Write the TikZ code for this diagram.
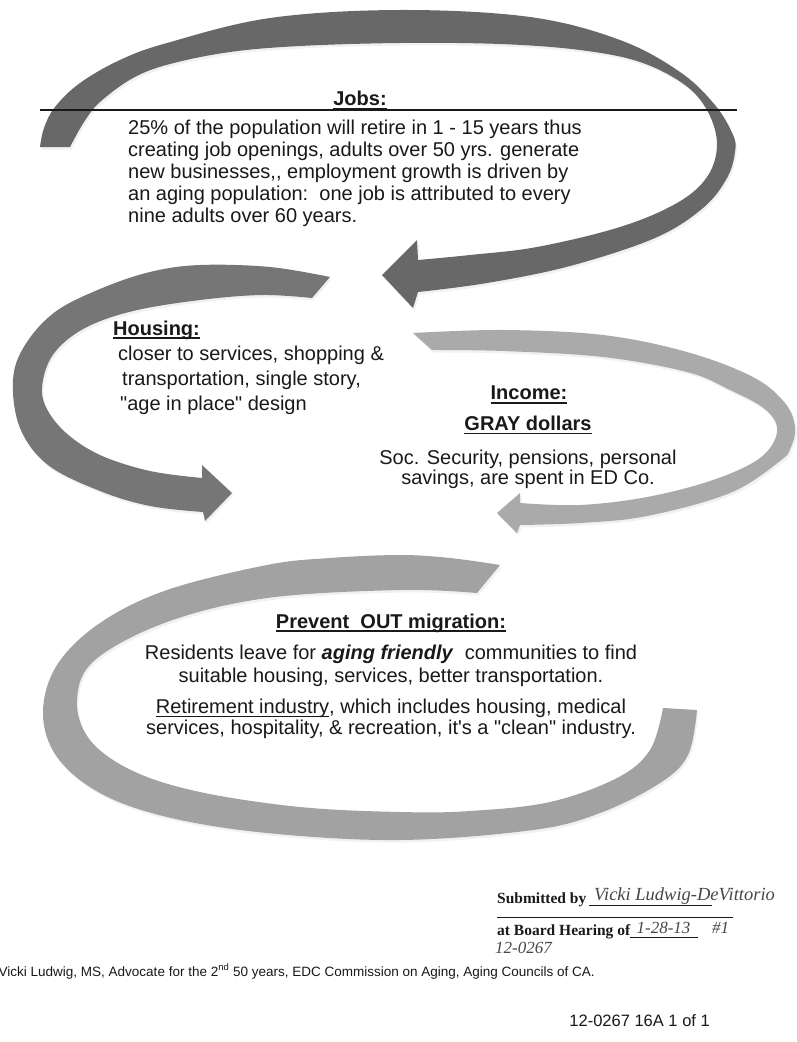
\documentclass[tikz,border=0pt]{standalone}
\usepackage{fontspec}
\setmainfont{Liberation Sans}
\newfontfamily\sansbody{Liberation Sans}
\newfontfamily\formfont{Liberation Serif}
\usepackage{tikz}
\usetikzlibrary{shadows}

\definecolor{jobsgray}{RGB}{104,104,104}
\definecolor{housegray}{RGB}{118,118,118}
\definecolor{incgray}{RGB}{170,170,170}
\definecolor{ringgray}{RGB}{162,162,162}
\definecolor{inkc}{RGB}{25,25,25}

% heavier underline for the headings
\newcommand{\hul}[2][1.6pt]{\setbox0=\hbox{#2}\rlap{\vrule width\wd0 height -2.2pt depth \dimexpr2.2pt+#1\relax}\box0}

\begin{document}
\begin{tikzpicture}[x=1pt,y=-1pt,
	band/.style={drop shadow={shadow xshift=1.5pt,shadow yshift=-2.5pt,fill=black!10}},
	body/.style={inner sep=0pt,text=inkc,font=\sansbody\fontsize{20}{22}\selectfont},
	head/.style={inner sep=0pt,text=inkc,font=\sansbody\bfseries\fontsize{20}{22}\selectfont},
	form/.style={inner sep=0pt,text=inkc,font=\formfont\bfseries\fontsize{15.5}{18}\selectfont},
	hand/.style={inner sep=0pt,text=inkc!80,font=\formfont\itshape\fontsize{17}{18}\selectfont},
	foot/.style={inner sep=0pt,text=inkc,font=\sansbody\fontsize{13.5}{15}\selectfont}]
		\useasboundingbox (0,0) rectangle (797,1042);
		\fill[white] (0,0) rectangle (797,1042);

		% jobs arrow
		\fill[jobsgray,band] plot[smooth,tension=0.6] coordinates {(40,147) (44,128) (55,107) (80,83) (120,60) (167,43) (270,18) (400,10) (530,17) (620,40) (680,72) (715,105) (733,135) (735,152) (727,178) (703,208) (655,238) (570,266) (487,283) (418,292)}
			-- (413,308) -- (382,275) -- (417,240) -- (418,260)
			-- plot[smooth,tension=0.6] coordinates {(418,260) (470,255) (537,247) (620,227) (677,203) (707,177) (717,145) (708,112) (685,85) (640,62) (580,50) (500,44) (400,43) (300,46) (230,52) (170,64) (133,78) (100,102) (84,122) (70,147)} -- cycle;

		% housing arrow
		\fill[housegray,band] plot[smooth,tension=0.6] coordinates {(330,277) (270,267) (200,265) (150,272) (100,289) (55,312) (25,345) (13,380) (20,428) (48,465) (100,491) (150,506) (203,512)}
			-- (205,521) -- (232,493) -- (202,465) -- (202,478)
			-- plot[smooth,tension=0.6] coordinates {(202,478) (150,471) (100,455) (65,432) (45,405) (43,380) (55,352) (85,328) (133,311) (200,300) (262,295) (312,298)} -- cycle;

		% income arrow
		\fill[incgray,band] plot[smooth,tension=0.6] coordinates {(413,333) (503,330) (603,335) (687,352) (753,377) (785,403) (795,427) (791,447) (780,461) (730,493) (647,516) (580,523) (520,525)}
			-- (517,533) -- (497,513) -- (520,493) -- (520,503)
			-- plot[smooth,tension=0.6] coordinates {(520,503) (580,505) (647,497) (713,480) (760,458) (777,432) (766,410) (730,390) (687,372) (603,357) (503,351) (432,350)} -- cycle;

		% out migration ring
		\fill[ringgray,band] plot[smooth,tension=0.6] coordinates {(500,565) (450,558) (400,555) (330,558) (267,565) (167,590) (100,623) (57,665) (43,713) (57,757) (100,793) (167,817) (267,833) (400,840) (533,830) (600,813) (660,783) (688,755) (697,710)}
			-- (663,708)
			-- plot[smooth,tension=0.6] coordinates {(663,708) (650,750) (617,778) (550,802) (470,811) (400,812) (300,807) (200,792) (133,771) (90,740) (77,700) (95,660) (167,622) (267,598) (400,590) (477,593)} -- cycle;

		\coordinate (rule-l) at (40,110);
		\coordinate (rule-r) at (737,110);
		\draw[line width=1.2pt,inkc] (rule-l) -- (rule-r);

		\node[head] (jobshead) at (360,100) {\hul{Jobs:}};
		\node[body,anchor=north west,align=left] (jobstext) at (128,120) {25\% of the population will retire in 1 - 15 years thus\\creating job openings, adults over 50 yrs. generate\\new businesses,, employment growth is driven by\\an aging population:\ \ one job is attributed to every\\nine adults over 60 years.};

		\node[head,anchor=west] (househead) at (113,330) {\hul{Housing:}};
		\node[body,anchor=north west,align=left,font=\sansbody\fontsize{20}{25}\selectfont] (housetext) at (118,346) {closer to services, shopping \&\\\hspace*{4pt}transportation, single story,\\\hspace*{2pt}"age in place" design};

		\node[head] (inchead) at (529,395) {\hul{Income:}};
		\node[head] (grayhead) at (528,425) {\hul{GRAY dollars}};
		\node[body,anchor=north,align=center,font=\sansbody\fontsize{20}{19.5}\selectfont] (inctext) at (528,450) {Soc. Security, pensions, personal\\savings, are spent in ED Co.};

		\node[head] (mighead) at (391,623) {\hul{Prevent\ \ OUT migration:}};
		\node[body,anchor=north,align=center,font=\sansbody\fontsize{20}{23}\selectfont] (migtext) at (391,645) {Residents leave for \textbf{\textit{aging friendly}}\ \ communities to find\\suitable housing, services, better transportation.};
		\node[body,anchor=north,align=center,font=\sansbody\fontsize{20}{21}\selectfont] (retiretext) at (391,699) {\hul[1.1pt]{Retirement industry}, which includes housing, medical\\services, hospitality, \& recreation, it's a "clean" industry.};

		% form at the foot
		\node[form,anchor=base west] (subm) at (497,903) {Submitted by};
		\node[hand,anchor=base west,font=\formfont\itshape\fontsize{18.5}{20}\selectfont] (sig) at (594,900) {Vicki Ludwig-DeVittorio};
		\coordinate (sigline-l) at (589,905);
		\coordinate (sigline-r) at (712,905);
		\draw[inkc,line width=0.8pt] (sigline-l) -- (sigline-r);
		\coordinate (formline-l) at (497,917);
		\coordinate (formline-r) at (733,917);
		\draw[inkc,line width=1pt] (formline-l) -- (formline-r);
		\node[form,anchor=base west] (board) at (497,935) {at Board Hearing of};
		\node[hand,anchor=base west] (hdate) at ([xshift=6pt,yshift=2pt]board.base east) {1-28-13};
		\node[hand,anchor=base west] (hitem) at (712,933) {\#1};
		\coordinate (dateline-l) at ([yshift=-2pt]board.base east);
		\coordinate (dateline-r) at (698,937);
		\draw[inkc,line width=0.8pt] (dateline-l) -- (dateline-r);
		\node[hand,anchor=base west] (fileno) at (495,953) {12-0267};

		\node[foot,anchor=base west] (author) at (-1.5,976) {Vicki Ludwig, MS, Advocate for the 2\textsuperscript{nd} 50 years, EDC Commission on Aging, Aging Councils of CA.};
		\node[foot,anchor=base east,font=\sansbody\fontsize{16.5}{18}\selectfont] (pageno) at (710,1026) {12-0267 16A 1 of 1};
\end{tikzpicture}
\end{document}
